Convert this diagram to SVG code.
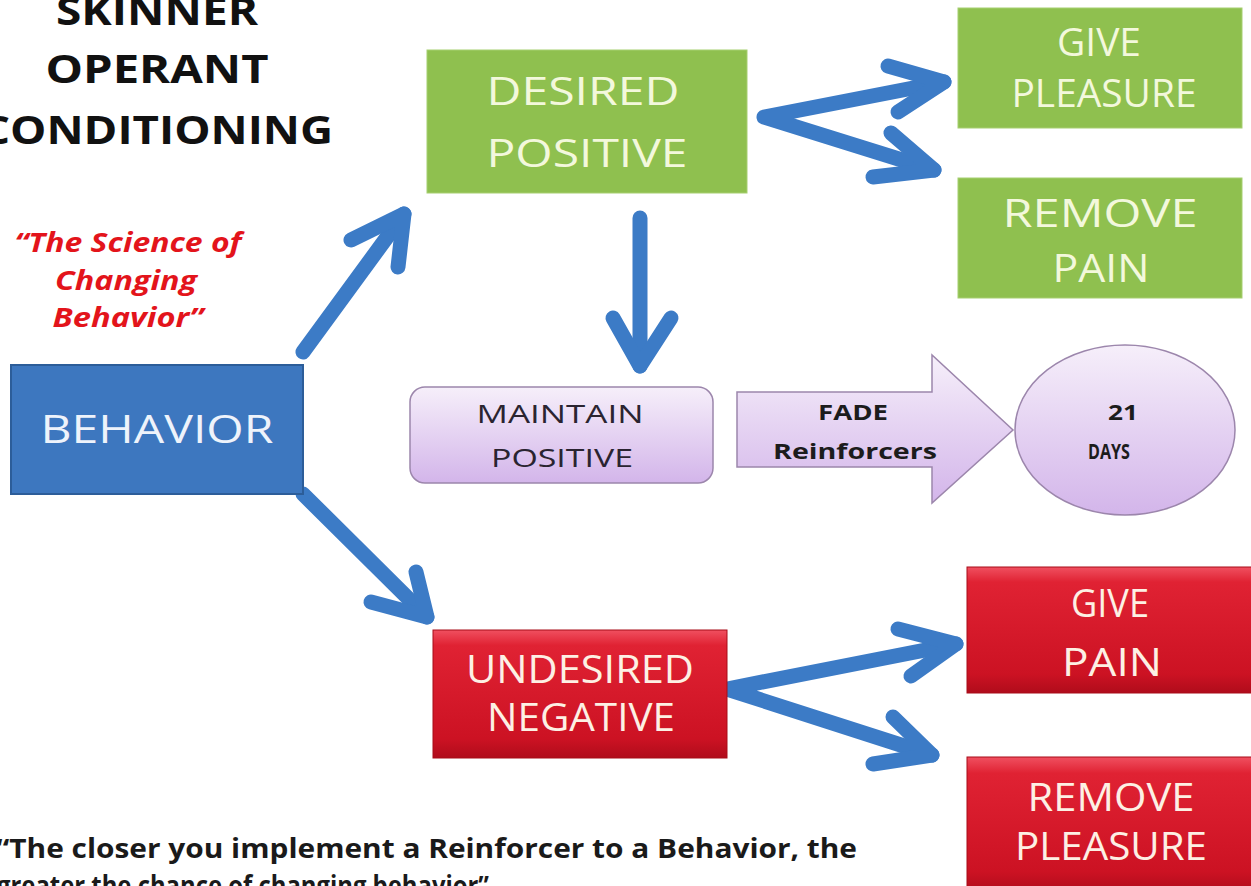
<svg xmlns="http://www.w3.org/2000/svg" width="1251" height="886" viewBox="0 0 1251 886">
<defs>
<linearGradient id="lav" x1="0" y1="0" x2="0" y2="1">
<stop offset="0" stop-color="#f6effa"/>
<stop offset="1" stop-color="#d3b5ea"/>
</linearGradient>
<linearGradient id="red" x1="0" y1="0" x2="0" y2="1">
<stop offset="0" stop-color="#f05060"/>
<stop offset="0.12" stop-color="#e02233"/>
<stop offset="0.85" stop-color="#cc1223"/>
<stop offset="1" stop-color="#b00c1b"/>
</linearGradient>
<style>
.title{font-family:"Open Sans","DejaVu Sans",sans-serif;font-weight:700;font-size:40px;fill:#111;text-anchor:middle}
.sub{font-family:"Open Sans","DejaVu Sans",sans-serif;font-weight:700;font-style:italic;font-size:26px;fill:#e3141b;text-anchor:middle}
.lbl{font-family:"Open Sans","Liberation Sans",sans-serif;text-anchor:middle}
.green{fill:#8fc04f;stroke:#a6cf70;stroke-width:1}
.gtxt{fill:#f3f8dc;font-size:38px}
.redbox{fill:url(#red);stroke:#a80c18;stroke-width:1}
.rtxt{fill:#fdf0e4;font-size:38px}
.lav{fill:url(#lav);stroke:#9c86ac;stroke-width:1.5}
.dtxt{fill:#2a2430;font-size:26px}
.btxt{fill:#1c1c1c;font-size:22px;font-weight:700}
.arr{fill:none;stroke:#3c7bc6;stroke-width:15;stroke-linecap:round;stroke-linejoin:round}
.quote{font-family:"Open Sans","Liberation Sans",sans-serif;font-weight:700;font-size:26px;fill:#1a1a1a}
</style>
</defs>
<rect width="1251" height="886" fill="#ffffff"/>

<g id="title">
<text class="title" x="157" y="25" textLength="202" lengthAdjust="spacingAndGlyphs">SKINNER</text>
<text class="title" x="157" y="83" textLength="223" lengthAdjust="spacingAndGlyphs">OPERANT</text>
<text class="title" x="157" y="144" textLength="352" lengthAdjust="spacingAndGlyphs">CONDITIONING</text>
</g>

<g id="subtitle">
<text class="sub" x="128" y="252" textLength="227" lengthAdjust="spacingAndGlyphs">“The Science of</text>
<text class="sub" x="126" y="290" textLength="142" lengthAdjust="spacingAndGlyphs">Changing</text>
<text class="sub" x="128" y="327" textLength="151" lengthAdjust="spacingAndGlyphs">Behavior”</text>
</g>

<g id="connectors">
<path class="arr" d="M303,352 L404,214"/>
<path class="arr" d="M351,240 L404,214 L398,267"/>
<path class="arr" d="M303,494 L427,617"/>
<path class="arr" d="M371,602 L427,617 L416,572"/>
<path class="arr" d="M640,218 L640,366"/>
<path class="arr" d="M613,318 L640,366 L671,318"/>
<path class="arr" d="M944,82 L764,117 L934,170"/>
<path class="arr" d="M888,66 L944,82 L898,112"/>
<path class="arr" d="M891,133 L934,170 L873,177"/>
<path class="arr" d="M956,644 L727,689 L932,755"/>
<path class="arr" d="M898,629 L956,644 L911,676"/>
<path class="arr" d="M893,717 L932,755 L873,764"/>
</g>

<g id="behavior">
<rect x="11" y="365" width="292" height="129" fill="#3d77bf" stroke="#2c5d99" stroke-width="2"/>
<text class="lbl" x="157" y="443" fill="#eef3fb" font-size="39" textLength="233" lengthAdjust="spacingAndGlyphs">BEHAVIOR</text>
</g>

<g id="desired-positive">
<rect class="green" x="427" y="50" width="320" height="143"/>
<text class="lbl gtxt" x="583" y="105" textLength="193" lengthAdjust="spacingAndGlyphs">DESIRED</text>
<text class="lbl gtxt" x="587" y="167" textLength="201" lengthAdjust="spacingAndGlyphs">POSITIVE</text>
</g>

<g id="give-pleasure">
<rect class="green" x="958" y="8" width="284" height="120"/>
<text class="lbl gtxt" x="1099" y="56" font-size="30" textLength="84" lengthAdjust="spacingAndGlyphs">GIVE</text>
<text class="lbl gtxt" x="1104" y="107" font-size="32" textLength="185" lengthAdjust="spacingAndGlyphs">PLEASURE</text>
</g>

<g id="remove-pain">
<rect class="green" x="958" y="178" width="284" height="120"/>
<text class="lbl gtxt" x="1100" y="227" font-size="41" textLength="195" lengthAdjust="spacingAndGlyphs">REMOVE</text>
<text class="lbl gtxt" x="1101" y="282" font-size="41" textLength="97" lengthAdjust="spacingAndGlyphs">PAIN</text>
</g>

<g id="maintain-positive">
<rect class="lav" x="410" y="387" width="303" height="96" rx="15"/>
<text class="lbl dtxt" x="560" y="423" textLength="167" lengthAdjust="spacingAndGlyphs">MAINTAIN</text>
<text class="lbl dtxt" x="562" y="467" textLength="142" lengthAdjust="spacingAndGlyphs">POSITIVE</text>
</g>

<g id="fade-reinforcers">
<path class="lav" d="M737,392 L932,392 L932,355 L1013,430 L932,503 L932,467 L737,467 Z"/>
<text class="lbl btxt" x="853" y="420" textLength="70" lengthAdjust="spacingAndGlyphs">FADE</text>
<text class="lbl btxt" x="855" y="459" textLength="164" lengthAdjust="spacingAndGlyphs">Reinforcers</text>
</g>

<g id="days">
<ellipse class="lav" cx="1125" cy="430" rx="110" ry="85"/>
<text class="lbl btxt" x="1123" y="420" textLength="30" lengthAdjust="spacingAndGlyphs">21</text>
<text class="lbl btxt" x="1109" y="459" textLength="42" lengthAdjust="spacingAndGlyphs">DAYS</text>
</g>

<g id="undesired-negative">
<rect class="redbox" x="433" y="630" width="294" height="128"/>
<text class="lbl rtxt" x="580" y="683" font-size="36" textLength="228" lengthAdjust="spacingAndGlyphs">UNDESIRED</text>
<text class="lbl rtxt" x="581" y="731" font-size="36" textLength="188" lengthAdjust="spacingAndGlyphs">NEGATIVE</text>
</g>

<g id="give-pain">
<rect class="redbox" x="967" y="567" width="290" height="126"/>
<text class="lbl rtxt" x="1110" y="617" font-size="40" textLength="78" lengthAdjust="spacingAndGlyphs">GIVE</text>
<text class="lbl rtxt" x="1112" y="676" font-size="40" textLength="100" lengthAdjust="spacingAndGlyphs">PAIN</text>
</g>

<g id="remove-pleasure">
<rect class="redbox" x="967" y="757" width="290" height="135"/>
<text class="lbl rtxt" x="1111" y="811" font-size="38" textLength="167" lengthAdjust="spacingAndGlyphs">REMOVE</text>
<text class="lbl rtxt" x="1111" y="860" font-size="38" textLength="192" lengthAdjust="spacingAndGlyphs">PLEASURE</text>
</g>

<g id="quote">
<text class="quote" x="-4" y="858" textLength="861" lengthAdjust="spacingAndGlyphs">“The closer you implement a Reinforcer to a Behavior, the</text>
<text class="quote" x="-3" y="895" textLength="492" lengthAdjust="spacingAndGlyphs">greater the chance of changing behavior”</text>
</g>
</svg>
